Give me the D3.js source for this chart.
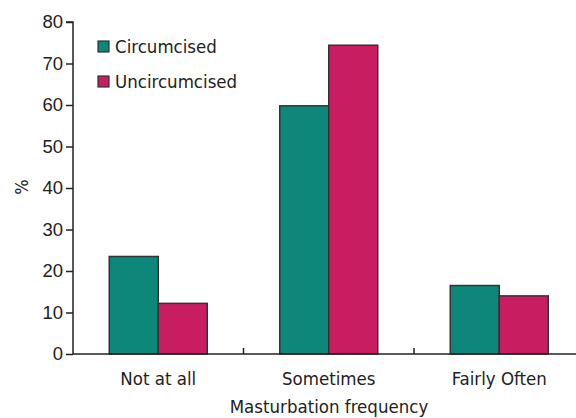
<!DOCTYPE html>
<html>
<head>
<meta charset="utf-8">
<script src="https://cdn.jsdelivr.net/npm/d3@7"></script>
<style>
  body { margin: 0; background: #fff; }
  svg { display: block; }
</style>
</head>
<body>
<div id="chart"></div>
<script>
const width = 576
const height = 418

const categories = ["Not at all", "Sometimes", "Fairly Often"]
const seriesNames = ["Circumcised", "Uncircumcised"]
const circumcised = [23.5, 59.8, 16.5]
const uncircumcised = [12.2, 74.4, 14.0]
const yTicks = [0, 10, 20, 30, 40, 50, 60, 70, 80]
const colors = ["#0c877a", "#c81e61"]

const labelFont = "DejaVu Sans Condensed, sans-serif"

const svg = d3.select("#chart").append("svg").attr("width", width).attr("height", height)

const x = d3.scaleBand().domain(categories).range([73, 584.5])
const y = d3.scaleLinear().domain([0, 80]).range([354, 22])

const barW = 49
const data = categories.map((c, i) => ({ cat: c, vals: [circumcised[i], uncircumcised[i]] }))

const groups = svg.selectAll("g.cat").data(data).enter().append("g")
groups.selectAll("rect").data(d => d.vals.map((v, j) => ({ cat: d.cat, v, j })))
    .enter().append("rect")
    .attr("x", d => x(d.cat) + x.bandwidth() / 2 - barW + d.j * barW)
    .attr("y", d => y(d.v))
    .attr("width", barW)
    .attr("height", d => y(0) - y(d.v))
    .attr("fill", d => colors[d.j])
    .attr("stroke", "#333")
    .attr("stroke-width", 1.5)

// y axis
const yAxis = d3.axisLeft(y).tickValues(yTicks).tickSize(7).tickPadding(3)
const yg = svg.append("g").attr("transform", "translate(73,0)").call(yAxis)
yg.select(".domain").attr("stroke", "#222").attr("stroke-width", 1.5).attr("d", `M-7,${y(80)}H0V${y(0)}`)
yg.selectAll(".tick line").attr("stroke", "#222").attr("stroke-width", 1.5)
yg.selectAll(".tick text").attr("font-family", "Liberation Sans, Arial, sans-serif").attr("font-size", 18.5).attr("fill", "#222")

// x axis: baseline with small ticks between categories
const xg = svg.append("g")
xg.append("line").attr("x1", 73).attr("x2", width).attr("y1", y(0)).attr("y2", y(0))
    .attr("stroke", "#222").attr("stroke-width", 1.5)
xg.selectAll("line.sep").data(categories.slice(1)).enter().append("line")
    .attr("x1", d => x(d)).attr("x2", d => x(d))
    .attr("y1", y(0)).attr("y2", y(0) - 6)
    .attr("stroke", "#222").attr("stroke-width", 1.5)
xg.selectAll("text").data(categories).enter().append("text")
    .attr("x", d => x(d) + x.bandwidth() / 2)
    .attr("y", 385)
    .attr("text-anchor", "middle")
    .attr("font-family", labelFont).attr("font-size", 18.5).attr("fill", "#222")
    .text(d => d)

svg.append("text").attr("x", 329).attr("y", 413).attr("text-anchor", "middle")
    .attr("font-family", labelFont).attr("font-size", 18.5).attr("fill", "#222")
    .text("Masturbation frequency")

svg.append("text").attr("transform", "translate(28,187) rotate(-90)")
    .attr("text-anchor", "middle")
    .attr("font-family", labelFont).attr("font-size", 18).attr("fill", "#222")
    .text("%")

// legend
const legend = svg.append("g").selectAll("g").data(seriesNames).enter().append("g")
    .attr("transform", (d, i) => `translate(98,${41 + i * 35})`)
legend.append("rect").attr("width", 11).attr("height", 11)
    .attr("fill", (d, i) => colors[i]).attr("stroke", "#333").attr("stroke-width", 1.2)
legend.append("text").attr("x", 17).attr("y", 12)
    .attr("font-family", labelFont).attr("font-size", 18.5).attr("fill", "#222")
    .text(d => d)
</script>
</body>
</html>
